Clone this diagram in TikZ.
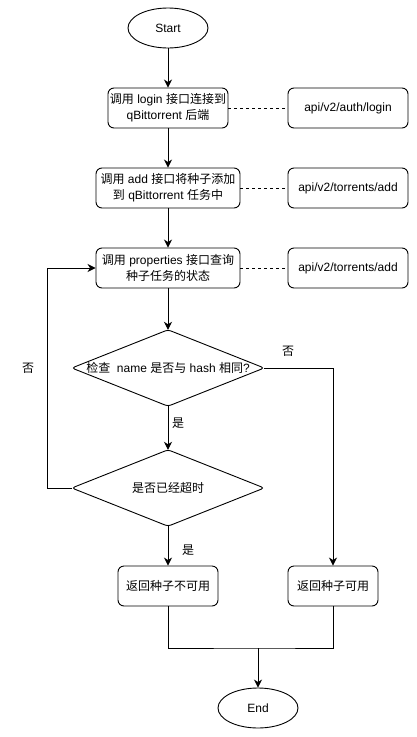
\documentclass[tikz,border=0pt]{standalone}
\usepackage{fontspec}
\setmainfont{Liberation Sans}
\newfontfamily\cjk{Noto Sans CJK SC}
\usetikzlibrary{arrows.meta,shapes.geometric}
\newcommand{\zh}[1]{{\cjk #1}}
\tikzset{
  every node/.style={font=\fontsize{12}{16}\selectfont},
  procbox/.style={draw, line width=0.9pt, rounded corners=6pt, minimum height=40pt, align=center, inner sep=0pt},
  term/.style={draw, line width=0.9pt, ellipse, minimum width=80pt, minimum height=40pt, inner sep=0pt},
  decbox/.style={minimum width=192pt, minimum height=76pt, inner sep=0pt, align=center},
  arr/.style={line width=0.9pt, -{Stealth[length=8pt,width=8pt,inset=2.5pt]}},
  plain/.style={line width=0.9pt},
  dashline/.style={line width=0.9pt, dash pattern=on 3pt off 3pt},
  lbl/.style={inner sep=0pt}
}
\begin{document}
\begin{tikzpicture}[x=1pt,y=-1pt]
\useasboundingbox (0,0) rectangle (417,737);
\node[term] (start) at (168,28) {Start};
\node[procbox, minimum width=120pt] (b1) at (168,108) {\zh{调用} login \zh{接口连接到}\\qBittorrent \zh{后端}};
\node[procbox, minimum width=120pt] (a1) at (348,108) {api/v2/auth/login};
\node[procbox, minimum width=144pt] (b2) at (168,188) {\zh{调用} add \zh{接口将种子添加}\\\zh{到} qBittorrent \zh{任务中}};
\node[procbox, minimum width=120pt] (a2) at (348,188) {api/v2/torrents/add};
\node[procbox, minimum width=144pt] (b3) at (168,268) {\zh{调用} properties \zh{接口查询}\\\zh{种子任务的状态}};
\node[procbox, minimum width=120pt] (a3) at (348,268) {api/v2/torrents/add};
\node[decbox] (d1) at (168,368) {\zh{检查}\ \ name \zh{是否与} hash \zh{相同}?};
\draw[plain, rounded corners=3pt] (d1.west) -- (d1.north) -- (d1.east) -- (d1.south) -- cycle;
\node[decbox] (d2) at (168,488) {\zh{是否已经超时}};
\draw[plain, rounded corners=3pt] (d2.west) -- (d2.north) -- (d2.east) -- (d2.south) -- cycle;
\node[procbox, minimum width=100pt] (b4) at (168,586) {\zh{返回种子不可用}};
\node[procbox, minimum width=90pt] (b5) at (333,586) {\zh{返回种子可用}};
\node[term] (end) at (258,708) {End};
\node[lbl] (l1) at (28,368) {\zh{否}};
\node[lbl] (l2) at (288,351) {\zh{否}};
\node[lbl] (l3) at (178,423) {\zh{是}};
\node[lbl] (l4) at (188,550) {\zh{是}};
\coordinate (m) at (258,648);
\draw[arr] (start) -- (b1);
\draw[arr] (b1) -- (b2);
\draw[arr] (b2) -- (b3);
\draw[arr] (b3) -- (d1.north);
\draw[arr] (d1.south) -- (d2.north);
\draw[arr] (d2.south) -- (b4);
\draw[arr] (d2.west) -- ++(-24,0) |- (b3.west);
\draw[arr] (d1.east) -| (b5.north);
\draw[dashline] (b1) -- (a1);
\draw[dashline] (b2) -- (a2);
\draw[dashline] (b3) -- (a3);
\draw[plain] (b4.south) |- (m) -| (b5.south);
\draw[arr] (m) -- (end);
\end{tikzpicture}
\end{document}
